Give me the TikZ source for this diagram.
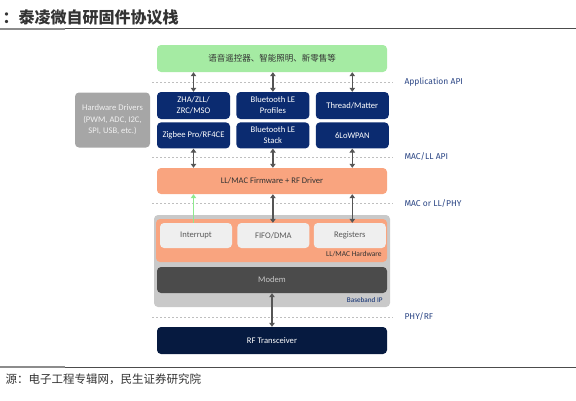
\documentclass[tikz,border=0pt]{standalone}
\usepackage{fontspec}
\setmainfont{Carlito}
\newfontfamily\cjk{Noto Sans CJK SC}
\newfontfamily\apifont{Fira Sans}
\definecolor{stnavy}{HTML}{0B2B70}
\definecolor{stdeep}{HTML}{061A40}
\definecolor{stgreen}{HTML}{A5EBA3}
\definecolor{storange}{HTML}{F9A47F}
\definecolor{stgray}{HTML}{A6A6A6}
\definecolor{stbase}{HTML}{C9C9C9}
\definecolor{stcell}{HTML}{EFEFEF}
\definecolor{stmodem}{HTML}{4B4B4B}
\definecolor{stlabel}{HTML}{2A4584}
\definecolor{starrow}{HTML}{555555}
\definecolor{stgarrow}{HTML}{8EEA8E}
\definecolor{sttext}{HTML}{333333}
\usetikzlibrary{arrows.meta, positioning}
\tikzset{
	sbox/.style={rounded corners=4pt, align=center, inner sep=0pt,
		font=\fontsize{8.6}{11}\selectfont, text=sttext},
	navybox/.style={sbox, fill=stnavy, text=white, minimum width=73pt, minimum height=26pt},
	widebox/.style={sbox, minimum width=230pt, minimum height=26pt},
	cellbox/.style={sbox, fill=stcell, text=black!65, minimum width=72pt, minimum height=25pt},
	sarr/.style={{Triangle[length=4pt,width=5.5pt]}-{Triangle[length=4pt,width=5.5pt]},
		line width=1.3pt, draw=starrow},
	garr/.style={-{Triangle[length=4pt,width=5.5pt]}, line width=1.3pt, draw=stgarrow},
	apiline/.style={draw=black!25, line width=1pt, dash pattern=on 2pt off 2pt},
	apilabel/.style={anchor=west, text=stlabel, font=\apifont\fontsize{8.5}{10}\selectfont}
}

\begin{document}
\begin{tikzpicture}[x=1pt, y=-1pt]
	\useasboundingbox (0,0) rectangle (576,400);
	% title and source
	\node[anchor=west, font=\cjk\bfseries\fontsize{16}{18}\selectfont, text=black!80] (title) at (-1,17) {：泰凌微自研固件协议栈};
	\draw[black!70, line width=0.8pt] (0,28.5) -- (576,28.5);
	\draw[black!45, line width=2pt] (0,28.5) -- (65,28.5);
	\draw[black!70, line width=0.8pt] (0,367) -- (576,367);
	\draw[black!45, line width=2pt] (0,367) -- (65,367);
	\node[anchor=west, font=\cjk\fontsize{11.5}{13}\selectfont, text=black!80] (source) at (2,379) {源：电子工程专辑网，民生证券研究院};

	% api separators
	\foreach \yy/\txt [count=\i] in {82/{Application API}, 157/{MAC/LL API}, 203.5/{MAC or LL/PHY}, 317/{PHY/RF}} {
		\draw[apiline] (152,\yy) -- (393,\yy);
		\node[apilabel] (api\i) at (401,\yy) {\txt};
	}

	% application + stacks
	\node[widebox, fill=stgreen, minimum height=27pt, font=\cjk\fontsize{8.5}{10}\selectfont] (app) at (272,58.5) {语音遥控器、智能照明、新零售等};
	\node[navybox, minimum height=27pt] (zha) at (193.5,105.5) {ZHA/ZLL/\\ZRC/MSO};
	\node[navybox, minimum height=27pt, right=6pt of zha] (blep) {Bluetooth LE\\Profiles};
	\node[navybox, minimum height=27pt, right=6pt of blep] (thread) {Thread/Matter};
	\node[navybox, below=3pt of zha] (zig) {Zigbee Pro/RF4CE};
	\node[navybox, below=3pt of blep] (bles) {Bluetooth LE\\Stack};
	\node[navybox, below=3pt of thread] (lowpan) {6LoWPAN};
	\node[sbox, fill=stgray, text=black!6, minimum width=75pt, minimum height=55pt,
		font=\fontsize{8.6}{11.5}\selectfont] (hwdrv) at (112.5,120) {Hardware Drivers\\(PWM, ADC, I2C,\\SPI, USB, etc.)};

	% firmware
	\node[widebox, fill=storange] (fw) at (272,181) {LL/MAC Firmware + RF Driver};

	% baseband ip
	\node[sbox, fill=stbase, minimum width=236pt, minimum height=92pt] (bbip) at (272,261) {};
	\node[sbox, fill=storange, minimum width=231pt, minimum height=43pt] (llhw) at (271.5,240.5) {};
	\node[cellbox] (intr) at (196,235.5) {Interrupt};
	\node[cellbox, right=5pt of intr] (fifo) {FIFO/DMA};
	\node[cellbox, right=4pt of fifo] (regs) {Registers};
	\node[anchor=south east, font=\fontsize{7.5}{9}\selectfont, text=sttext] (hwlbl) at ([xshift=-2pt,yshift=1.5pt]llhw.south east) {LL/MAC Hardware};
	\node[widebox, fill=stmodem, text=black!22] (modem) at (272,280) {Modem};
	\node[anchor=south east, font=\fontsize{7.2}{9}\selectfont, text=stnavy] (bblbl) at ([xshift=-4pt,yshift=1.5pt]bbip.south east) {Baseband IP};

	% rf
	\node[widebox, fill=stdeep, text=white, minimum height=27pt] (rf) at (272,340.5) {RF Transceiver};

	% arrows
	\foreach \nd in {zha, blep, thread}
		\draw[sarr] (app.south -| \nd) -- (\nd.north);
	\foreach \nd in {zig, bles, lowpan}
		\draw[sarr] (\nd.south) -- (fw.north -| \nd);
	\draw[garr] (intr.north -| zig) -- (fw.south -| zig);
	\draw[sarr] (fifo.north -| bles) -- (fw.south -| bles);
	\draw[sarr] (regs.north -| lowpan) -- (fw.south -| lowpan);
	\draw[sarr] (modem.south) -- (rf.north);
\end{tikzpicture}
\end{document}
